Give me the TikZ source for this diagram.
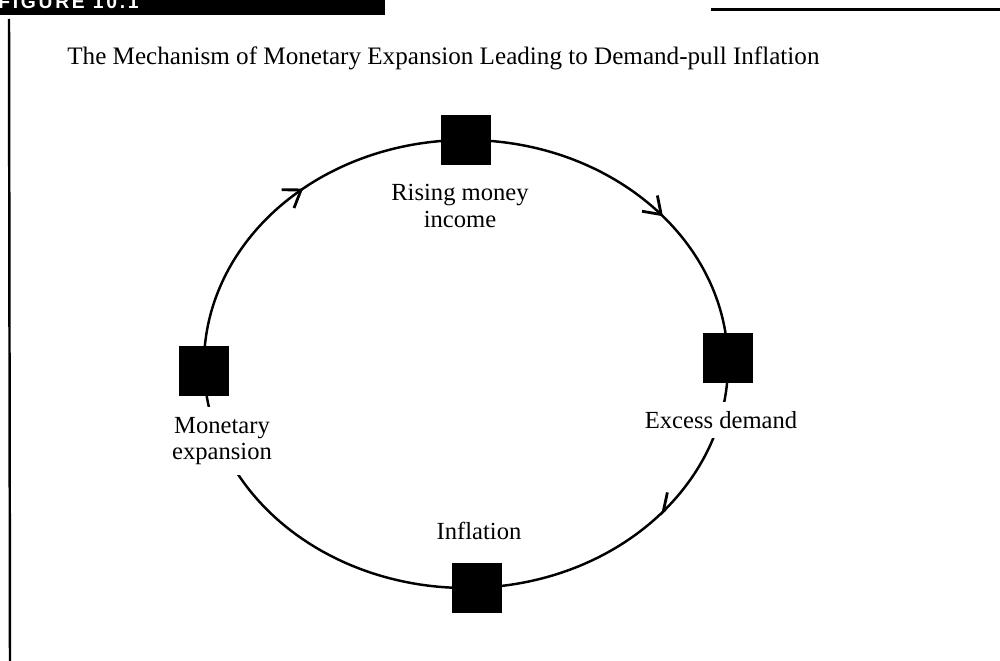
\documentclass[tikz,border=0pt]{standalone}
\usepackage{fontspec}
\setmainfont{Liberation Serif}
\newfontfamily\figfont[LetterSpace=14]{Liberation Sans}
\usetikzlibrary{arrows.meta,calc,decorations.markings}

\begin{document}
\begin{tikzpicture}[x=0.02cm,y=0.02cm,
  sq/.style={fill=black,minimum size=1cm,inner sep=0pt},
  lbl/.style={fill=white,inner xsep=2pt,inner ysep=5.5pt,align=center,
    font=\fontsize{14}{15}\selectfont},
  ring/.style={line width=1.4pt},
  flow/.style={postaction={decorate},decoration={markings,
    mark=at position #1 with {\arrow{Straight Barb[length=3.2mm,width=4.4mm,line width=1.6pt]}}}},
  flowhalf/.style={postaction={decorate},decoration={markings,
    mark=at position #1 with {\arrow{Straight Barb[harpoon,swap,length=3.2mm,width=4.4mm,line width=1.6pt]}}}}]
\useasboundingbox (0,0) rectangle (1000,661);
\clip (0,0) rectangle (1000,661);

% Header bar and rules
\fill (0,646) rectangle (385,665);
\node[anchor=base west,inner sep=0pt,text=white,
  font=\figfont\bfseries\fontsize{11}{11}\selectfont] (fig) at (-2,652) {FIGURE 10.1};
\draw[line width=1.7pt] (711,651) -- (1000,651);
\draw[line width=1.4pt] (9,642) -- (10,0);

% Title
\node[anchor=base west,inner sep=0pt,font=\fontsize{14.3}{16}\selectfont] (title)
  at (67,596) {The Mechanism of Monetary Expansion Leading to Demand-pull Inflation};

% Stages on the ellipse
\coordinate (c) at (466,297);
\node[sq] (income) at ($(c)+(90:262 and 224)$) {};
\node[sq] (demand) at ($(c)+(1.5:262 and 224)$) {};
\node[sq] (inflation) at ($(c)+(-87.6:262 and 224)$) {};
\node[sq] (money) at ($(c)+(181.8:262 and 224)$) {};

% The cycle
\draw[ring,flow=0.557] (money.center) arc[start angle=181.8,end angle=90,x radius=262,y radius=224];
\draw[ring,flow=0.575] (income.center) arc[start angle=90,end angle=1.5,x radius=262,y radius=224];
\draw[ring,flowhalf=0.466] (demand.center) arc[start angle=1.5,end angle=-87.6,x radius=262,y radius=224];
\draw[ring] (inflation.center) arc[start angle=-87.6,end angle=-178.2,x radius=262,y radius=224];

% Labels
\node[lbl] (incomeTxt) at (460,455) {Rising money\\income};
\node[lbl] (demandTxt) at (721,241) {Excess demand};
\node[lbl] (inflationTxt) at (479,130) {Inflation};
\node[lbl] (moneyTxt) at (222,220) {Monetary\\expansion};
\end{tikzpicture}
\end{document}
